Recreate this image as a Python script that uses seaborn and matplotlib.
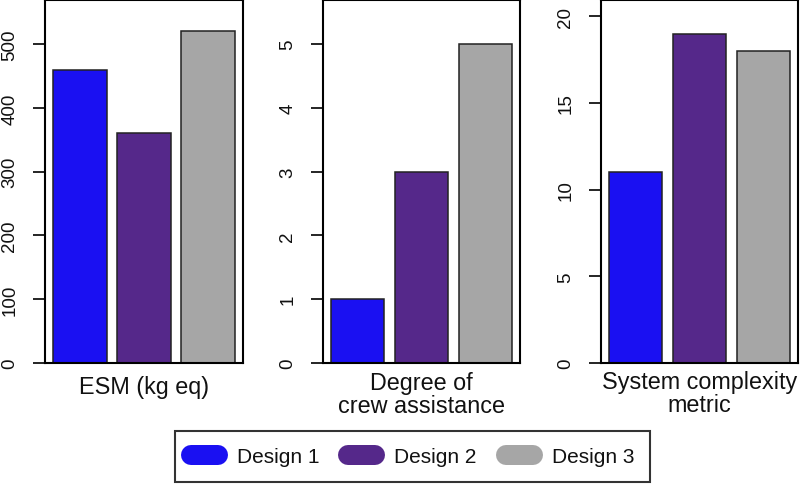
import matplotlib
matplotlib.use("Agg")
import matplotlib.pyplot as plt
import seaborn as sns
import pandas as pd
from matplotlib.lines import Line2D

designs = ["Design 1", "Design 2", "Design 3"]
esm = [460, 360, 520]
crew = [1, 3, 5]
complexity = [11, 19, 18]
panel_labels = ["ESM (kg eq)", "Degree of\ncrew assistance", "System complexity\nmetric"]
panel_ticks = [[0, 100, 200, 300, 400, 500], [0, 1, 2, 3, 4, 5], [0, 5, 10, 15, 20]]
panel_ylim = [569, 5.69, 20.94]
colors = ["#1a10f2", "#55288a", "#a6a6a6"]

sns.set_theme(style="white")
plt.rcParams["font.family"] = ["Liberation Sans", "DejaVu Sans"]

W, H = 800, 485
fig = plt.figure(figsize=(W / 100, H / 100), dpi=100)

lefts = [45, 323, 601]
widths = [198, 197, 197]
bottom_px = 364
top_px = 1

series = [esm, crew, complexity]
label_centers = [388, 395, 394]

for i in range(3):
    ax = fig.add_axes([lefts[i] / W, 1 - bottom_px / H, widths[i] / W, (bottom_px - top_px) / H])
    df = pd.DataFrame({"design": designs, "value": series[i]})
    sns.barplot(data=df, x="design", y="value", hue="design", palette=colors,
                width=0.84, edgecolor="#222222", linewidth=1.1, saturation=1,
                legend=False, ax=ax)
    ax.set_xlim(-0.54, 2.54)
    ax.set_ylim(0, panel_ylim[i])
    ax.set_yticks(panel_ticks[i])
    ax.set_yticklabels([str(t) for t in panel_ticks[i]])
    ax.set_xticks([])
    ax.set_xlabel("")
    ax.set_ylabel("")
    for s in ax.spines.values():
        s.set_visible(True)
        s.set_color("black")
        s.set_linewidth(1.5)
    ax.tick_params(axis="y", left=True, direction="out", length=8.8, width=1.2,
                   color="black", labelsize=13.5, pad=10.5, labelcolor="#111111")
    for lab in ax.get_yticklabels():
        lab.set_rotation(90)
        lab.set_va("center")
        lab.set_ha("right")
    yc = (bottom_px - label_centers[i]) / (bottom_px - top_px)
    ax.text(0.5, yc, panel_labels[i], transform=ax.transAxes, ha="center", va="center",
            fontsize=16.8, linespacing=1.05, color="#111111")

handles = [Line2D([0], [0], color=c, lw=14.4, solid_capstyle="round") for c in colors]
leg = fig.legend(handles, designs, loc="center", bbox_to_anchor=(412.5 / W, 1 - 457.5 / H),
                 ncol=3, frameon=True, fancybox=False, fontsize=15,
                 handlelength=1.3, handletextpad=0.9, columnspacing=1.4,
                 borderpad=0.75, borderaxespad=0)
leg.get_frame().set_edgecolor("black")
leg.get_frame().set_linewidth(1.5)
for t in leg.get_texts():
    t.set_color("#111111")

fig.savefig("out.png", dpi=100)
